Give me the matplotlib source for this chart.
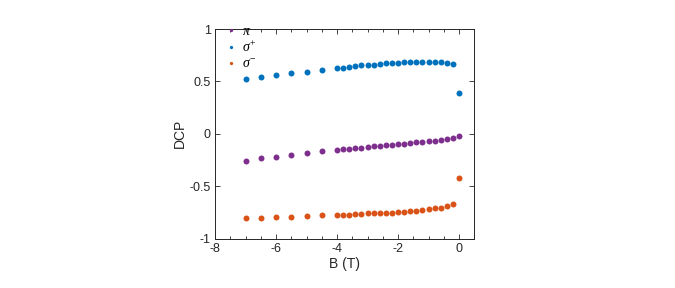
import numpy as np
import matplotlib
matplotlib.use("Agg")
import matplotlib.pyplot as plt
from matplotlib.ticker import MultipleLocator

B = [-7, -6.5, -6, -5.5, -5, -4.5, -4, -3.8, -3.6, -3.4, -3.2, -3.0, -2.8, -2.6,
     -2.4, -2.2, -2.0, -1.8, -1.6, -1.4, -1.2, -1.0, -0.8, -0.6, -0.4, -0.2, 0]

pi_vals = [-0.261, -0.232, -0.220, -0.204, -0.188, -0.169, -0.156, -0.150, -0.143,
           -0.140, -0.134, -0.127, -0.121, -0.115, -0.108, -0.105, -0.099, -0.096,
           -0.089, -0.083, -0.080, -0.073, -0.067, -0.060, -0.054, -0.041, -0.022]

sigma_plus = [0.525, 0.541, 0.560, 0.579, 0.594, 0.613, 0.629, 0.629, 0.638, 0.648,
              0.654, 0.657, 0.660, 0.670, 0.673, 0.676, 0.679, 0.682, 0.686, 0.686,
              0.686, 0.686, 0.682, 0.682, 0.676, 0.664, 0.393]

sigma_minus = [-0.809, -0.803, -0.799, -0.790, -0.787, -0.780, -0.771, -0.771, -0.771,
               -0.768, -0.764, -0.758, -0.758, -0.758, -0.755, -0.752, -0.748, -0.745,
               -0.742, -0.736, -0.729, -0.723, -0.713, -0.707, -0.691, -0.672, -0.424]

labels = [r'$\pi$', r'$\sigma^{+}$', r'$\sigma^{-}$']
colors = ['#7E2F8E', '#0072BD', '#D95319']

plt.rcParams['font.family'] = ['Liberation Sans', 'DejaVu Sans']
plt.rcParams['mathtext.fontset'] = 'custom'
plt.rcParams['mathtext.it'] = 'Liberation Serif:italic'
plt.rcParams['mathtext.rm'] = 'Liberation Serif'

fig = plt.figure(figsize=(6.75, 2.88), dpi=100)
ax = fig.add_axes([215/675, 1 - 238.5/288, (474.3 - 215)/675, (238.5 - 29)/288])

for vals, lab, c in zip([pi_vals, sigma_plus, sigma_minus], labels, colors):
    ax.plot(B, vals, 'o', color=c, markersize=4.3, markeredgewidth=0, label=lab)

ax.set_xlim(-8, 0.5)
ax.set_ylim(-1, 1)
ax.xaxis.set_minor_locator(MultipleLocator(0.5))
ax.set_yticks([-1, -0.5, 0, 0.5, 1])
ax.set_yticklabels(['-1', '-0.5', '0', '0.5', '1'])
ax.set_xticks([-8, -6, -4, -2, 0])
ax.set_xticklabels(['-8', '-6', '-4', '-2', '0'])
ax.tick_params(which='both', direction='in', top=True, right=True, labelsize=9,
               color='#262626', labelcolor='#262626', width=0.6)
ax.tick_params(which='major', length=3.5, pad=3)
ax.tick_params(which='minor', length=2)
for s in ax.spines.values():
    s.set_color('#262626')
    s.set_linewidth(0.7)

ax.set_xlabel('B (T)', fontsize=10, color='#262626', labelpad=2)
ax.set_ylabel('DCP', fontsize=10, color='#262626', labelpad=2)

leg = ax.legend(loc='upper left', frameon=False, fontsize=10, markerscale=0.55,
                handlelength=0.8, handletextpad=0.4, labelspacing=0.12,
                borderaxespad=0.0, bbox_to_anchor=(0.02, 1.05))

fig.savefig('out.png', dpi=100)
